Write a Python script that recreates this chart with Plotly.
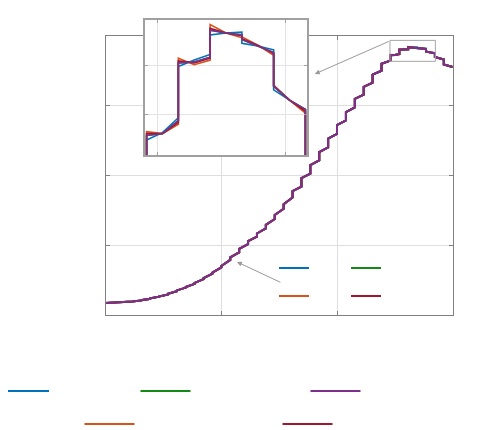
import plotly.graph_objects as go

# step index of each held sample (0..38), the plot spans 39 samples
steps = list(range(39))

# value at the start and at the end of each step
step_start = [0.173, 0.177, 0.182, 0.194, 0.212, 0.240, 0.265, 0.303, 0.352, 0.400,
              0.460, 0.527, 0.608, 0.702, 0.825, 0.947, 1.056, 1.167, 1.291, 1.431,
              1.584, 1.774, 1.958, 2.145, 2.331, 2.523, 2.718, 2.904, 3.092, 3.265,
              3.439, 3.595, 3.719, 3.797, 3.832, 3.822, 3.772, 3.693, 3.586]
step_end = [0.177, 0.181, 0.190, 0.208, 0.232, 0.262, 0.293, 0.341, 0.392, 0.446,
            0.514, 0.591, 0.682, 0.788, 0.895, 1.015, 1.122, 1.239, 1.373, 1.521,
            1.682, 1.836, 2.024, 2.211, 2.397, 2.591, 2.784, 2.970, 3.154, 3.325,
            3.495, 3.641, 3.735, 3.803, 3.827, 3.808, 3.747, 3.657, 3.548]

# steps shown in the zoom window, (start, middle, end) of each step per method
zoom_steps = [32, 33, 34, 35, 36]
blue_zoom = [(3.714, 3.722, 3.738), (3.793, 3.800, 3.806), (3.827, 3.829, 3.830),
             (3.818, 3.815, 3.811), (3.768, 3.757, 3.747)]
orange_zoom = [(3.723, 3.721, 3.731), (3.802, 3.795, 3.800), (3.838, 3.829, 3.824),
               (3.825, 3.816, 3.805), (3.773, 3.757, 3.743)]
green_zoom = [(3.719, 3.721, 3.735), (3.797, 3.798, 3.803), (3.832, 3.829, 3.827),
              (3.822, 3.815, 3.808), (3.772, 3.757, 3.747)]
darkred_zoom = [(3.721, 3.721, 3.733), (3.799, 3.797, 3.802), (3.834, 3.829, 3.826),
                (3.823, 3.816, 3.807), (3.772, 3.757, 3.745)]
purple_zoom = [(3.719, 3.721, 3.735), (3.797, 3.798, 3.803), (3.832, 3.829, 3.827),
               (3.822, 3.815, 3.808), (3.772, 3.757, 3.747)]

colors = {'blue': '#0072BD', 'orange': '#D95319', 'green': '#138A13',
          'darkred': '#A2142F', 'purple': '#7E2F8E'}
methods = [('blue', blue_zoom), ('orange', orange_zoom), ('green', green_zoom),
           ('darkred', darkred_zoom), ('purple', purple_zoom)]


def held_signal(zoom_vals):
    xs, ys = [], []
    for k in steps:
        if k in zoom_steps:
            s, m, e = zoom_vals[zoom_steps.index(k)]
            xs += [k, k + 0.5, k + 1]
            ys += [s, m, e]
        else:
            xs += [k, k + 1]
            ys += [step_start[k], step_end[k]]
    return xs, ys


fig = go.Figure()

for name, zv in methods:
    xs, ys = held_signal(zv)
    fig.add_trace(go.Scatter(x=xs, y=ys, mode='lines', showlegend=False,
                             line=dict(color=colors[name], width=2), hoverinfo='skip'))
for name, zv in methods:
    xs, ys = held_signal(zv)
    fig.add_trace(go.Scatter(x=xs, y=ys, mode='lines', showlegend=False, xaxis='x2', yaxis='y2',
                             line=dict(color=colors[name], width=1.6), hoverinfo='skip'))

# legend keys (labels are empty in the figure)
legend_rows = [('legend', ['blue', 'green']), ('legend2', ['orange', 'darkred']),
               ('legend3', ['blue']), ('legend4', ['green', 'purple']),
               ('legend5', ['orange', 'darkred'])]
for lg, names in legend_rows:
    for name in names:
        fig.add_trace(go.Scatter(x=[None], y=[None], mode='lines', name='', legend=lg,
                                 line=dict(color=colors[name], width=2)))

W, H = 498, 430
OFF = 8  # the page puts the figure 8px in from the window corner


def px_x(p):
    return (p - OFF) / W


def px_y(p):
    return 1 - (p - OFF) / H


inner = dict(orientation='h', bgcolor='rgba(0,0,0,0)', font=dict(size=8),
             xanchor='left', yanchor='middle', entrywidth=27, traceorder='normal')
outer = dict(orientation='h', bgcolor='rgba(0,0,0,0)', font=dict(size=8),
             xanchor='left', yanchor='middle', itemwidth=50, traceorder='normal')

fig.update_layout(
    width=W, height=H, autosize=False,
    margin=dict(l=0, r=0, t=0, b=0, autoexpand=False),
    paper_bgcolor='white', plot_bgcolor='white',
    legend=dict(inner, x=px_x(274), y=px_y(268)),
    legend2=dict(inner, x=px_x(274), y=px_y(296)),
    legend3=dict(outer, x=px_x(-6), y=px_y(391)),
    legend4=dict(outer, x=px_x(135.5), y=px_y(391), entrywidth=105),
    legend5=dict(outer, x=px_x(79.5), y=px_y(424), entrywidth=133),
    xaxis=dict(domain=[px_x(105.7), px_x(452.7)], range=[0, 39], tickvals=[13, 26],
               showticklabels=False, showgrid=True, gridcolor='#dedede', zeroline=False,
               showline=True, mirror='allticks', linecolor='#808080', linewidth=1,
               ticks='inside', ticklen=4, tickcolor='#808080'),
    yaxis=dict(domain=[px_y(315), px_y(35.5)], range=[0, 4], tickvals=[1, 2, 3],
               showticklabels=False, showgrid=True, gridcolor='#dedede', zeroline=False,
               showline=True, mirror='allticks', linecolor='#808080', linewidth=1,
               ticks='inside', ticklen=4, tickcolor='#808080'),
    xaxis2=dict(domain=[px_x(145), px_x(307)], anchor='y2', range=[31.95, 37.05],
                tickvals=[32.33, 36.36], showticklabels=False, showgrid=True,
                gridcolor='#e3e3e3', zeroline=False, showline=True, mirror='allticks',
                linecolor='#a0a0a0', linewidth=1.5, ticks='inside', ticklen=3,
                tickcolor='#a0a0a0'),
    yaxis2=dict(domain=[px_y(155), px_y(20)], anchor='x2', range=[3.698, 3.843],
                tickvals=[3.742, 3.794], showticklabels=False, showgrid=True,
                gridcolor='#e3e3e3', zeroline=False, showline=True, mirror='allticks',
                linecolor='#a0a0a0', linewidth=1.5, ticks='inside', ticklen=3,
                tickcolor='#a0a0a0'),
    shapes=[dict(type='rect', xref='x', yref='y', x0=31.95, x1=37.05, y0=3.63, y1=3.93,
                 line=dict(color='#a6a6a6', width=1))],
    annotations=[
        dict(xref='x', yref='y', axref='x', ayref='y', x=23.5, y=3.45, ax=32.0, ay=3.925,
             text='', showarrow=True, arrowhead=2, arrowsize=1, arrowwidth=1,
             arrowcolor='#9a9a9a'),
        dict(xref='x', yref='y', axref='x', ayref='y', x=14.75, y=0.76, ax=19.8, ay=0.458,
             text='', showarrow=True, arrowhead=2, arrowsize=1, arrowwidth=1,
             arrowcolor='#9a9a9a'),
    ],
)

fig.write_html("out.html")
